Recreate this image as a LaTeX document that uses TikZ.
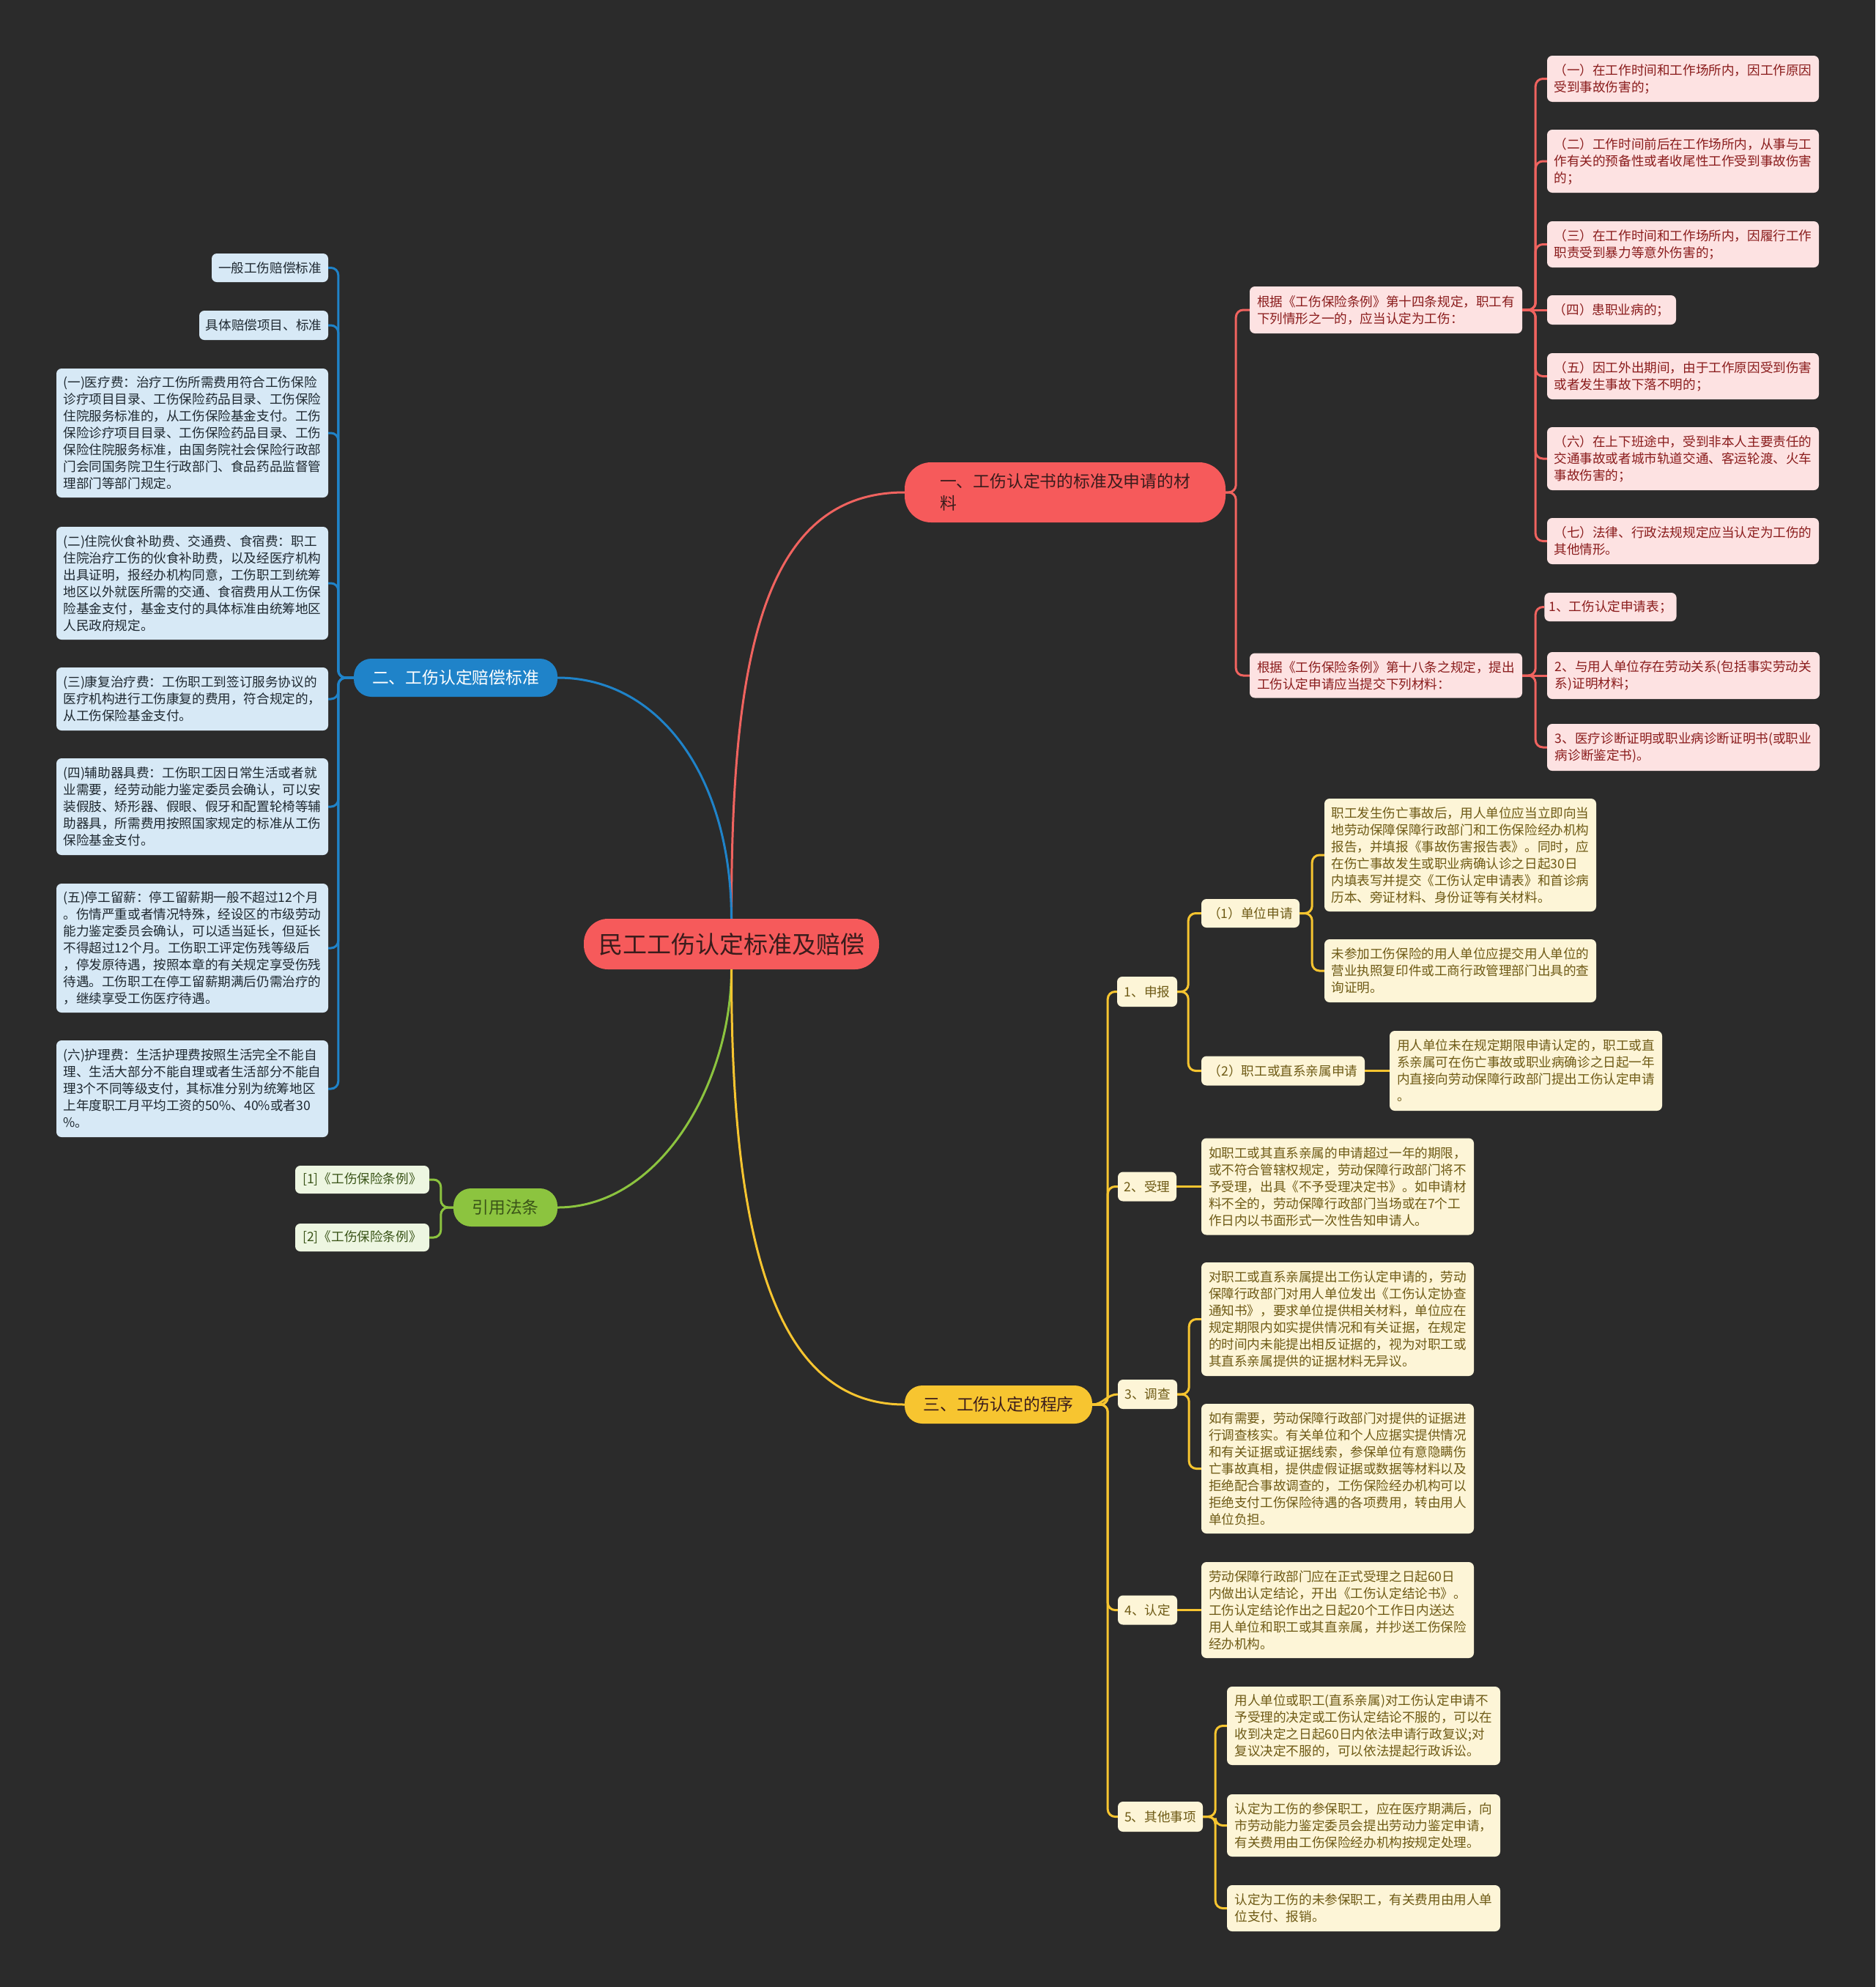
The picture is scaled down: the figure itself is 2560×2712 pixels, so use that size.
\documentclass[tikz,border=0pt]{standalone}
\usepackage{fontspec}
\setmainfont{Noto Sans CJK SC}

\definecolor{bg}{HTML}{2B2B2B}
\definecolor{redc}{HTML}{F65A5B}
\definecolor{redl}{HTML}{F0635F}
\definecolor{bluec}{HTML}{1F83C9}
\definecolor{greenc}{HTML}{8CC43F}
\definecolor{yelc}{HTML}{F7C530}
\definecolor{rfill}{HTML}{FDE2E2}
\definecolor{rtext}{HTML}{8A1C1C}
\definecolor{bfill}{HTML}{D7E9F6}
\definecolor{btext}{HTML}{1E2830}
\definecolor{yfill}{HTML}{FDF5D7}
\definecolor{ytext}{HTML}{6E5A15}
\definecolor{gfill}{HTML}{EDF6E1}
\definecolor{gtext}{HTML}{3A5418}
\definecolor{dtext}{HTML}{3A1C1C}

\tikzset{
  sz/.style 2 args={minimum width=#1, minimum height=#2},
  leaf/.style={rectangle, rounded corners=7pt, inner xsep=6pt, inner ysep=3pt,
    align=left, font=\fontsize{17.6}{23}\selectfont},
  rleaf/.style={leaf, fill=rfill, text=rtext},
  bleaf/.style={leaf, fill=bfill, text=btext},
  yleaf/.style={leaf, fill=yfill, text=ytext},
  gleaf/.style={leaf, fill=gfill, text=gtext},
  topic/.style={rectangle, rounded corners=24pt, inner sep=5pt, align=left,
    font=\fontsize{22.8}{30}\selectfont},
  rootbox/.style={rectangle, rounded corners=33pt, fill=redc, text=dtext,
    font=\fontsize{33}{40}\selectfont},
  link/.style={line width=3pt, rounded corners=10pt},
  rlink/.style={link, draw=redl},
  blink/.style={link, draw=bluec},
  glink/.style={link, draw=greenc},
  ylink/.style={link, draw=yelc},
}

\begin{document}
\begin{tikzpicture}[x=1pt, y=-1pt]
  % canvas
  \path[use as bounding box, fill=bg] (0,0) rectangle (2560,2712);

  % root
  \node[rootbox, sz={403}{69}] (root) at (998.5,1288.5) {民工工伤认定标准及赔偿};

  % main topics
  \node[topic, fill=redc, text=dtext, sz={438}{82}, rounded corners=36pt] (std) at (1454,672)
    {一、工伤认定书的标准及申请的材\\料};
  \node[topic, fill=bluec, text=white, sz={278}{52}] (comp) at (622,925) {二、工伤认定赔偿标准};
  \node[topic, fill=greenc, text=gtext, sz={142}{52}] (law) at (690,1648) {引用法条};
  \node[topic, fill=yelc, text=dtext, sz={256}{52}] (proc) at (1363,1917) {三、工伤认定的程序};

  % red: standards
  \node[rleaf, sz={372}{64}] (std1) at (1892,423)
    {根据《工伤保险条例》第十四条规定，职工有\\下列情形之一的，应当认定为工伤：};
  \node[rleaf, sz={372}{61}] (std2) at (1892,922)
    {根据《工伤保险条例》第十八条之规定，提出\\工伤认定申请应当提交下列材料：};
  \node[rleaf, sz={371}{63}] (std1a) at (2297.5,107.5)
    {（一）在工作时间和工作场所内，因工作原因\\受到事故伤害的；};
  \node[rleaf, sz={371}{86}] (std1b) at (2297.5,220)
    {（二）工作时间前后在工作场所内，从事与工\\作有关的预备性或者收尾性工作受到事故伤害\\的；};
  \node[rleaf, sz={371}{63}] (std1c) at (2297.5,333.5)
    {（三）在工作时间和工作场所内，因履行工作\\职责受到暴力等意外伤害的；};
  \node[rleaf, sz={176}{40}] (std1d) at (2200,423) {（四）患职业病的；};
  \node[rleaf, sz={371}{63}] (std1e) at (2297.5,513.5)
    {（五）因工外出期间，由于工作原因受到伤害\\或者发生事故下落不明的；};
  \node[rleaf, sz={371}{86}] (std1f) at (2297.5,626)
    {（六）在上下班途中，受到非本人主要责任的\\交通事故或者城市轨道交通、客运轮渡、火车\\事故伤害的；};
  \node[rleaf, sz={371}{63}] (std1g) at (2297.5,738.5)
    {（七）法律、行政法规规定应当认定为工伤的\\其他情形。};
  \node[rleaf, sz={177}{39}] (std2a) at (2198.5,828.5) {1、工伤认定申请表；};
  \node[rleaf, sz={372}{64}] (std2b) at (2298,922)
    {2、与用人单位存在劳动关系(包括事实劳动关\\系)证明材料；};
  \node[rleaf, sz={372}{64}] (std2c) at (2298,1020)
    {3、医疗诊断证明或职业病诊断证明书(或职业\\病诊断鉴定书)。};

  % blue: compensation
  \node[bleaf, sz={159}{39}] (comp1) at (368.5,365.5) {一般工伤赔偿标准};
  \node[bleaf, sz={176}{40}] (comp2) at (360,444) {具体赔偿项目、标准};
  \node[bleaf, sz={371}{176}] (comp3) at (262.5,591)
    {(一)医疗费：治疗工伤所需费用符合工伤保险\\诊疗项目目录、工伤保险药品目录、工伤保险\\住院服务标准的，从工伤保险基金支付。工伤\\保险诊疗项目目录、工伤保险药品目录、工伤\\保险住院服务标准，由国务院社会保险行政部\\门会同国务院卫生行政部门、食品药品监督管\\理部门等部门规定。};
  \node[bleaf, sz={371}{154}] (comp4) at (262.5,796)
    {(二)住院伙食补助费、交通费、食宿费：职工\\住院治疗工伤的伙食补助费，以及经医疗机构\\出具证明，报经办机构同意，工伤职工到统筹\\地区以外就医所需的交通、食宿费用从工伤保\\险基金支付，基金支付的具体标准由统筹地区\\人民政府规定。};
  \node[bleaf, sz={371}{86}] (comp5) at (262.5,954)
    {(三)康复治疗费：工伤职工到签订服务协议的\\医疗机构进行工伤康复的费用，符合规定的，\\从工伤保险基金支付。};
  \node[bleaf, sz={371}{132}] (comp6) at (262.5,1101)
    {(四)辅助器具费：工伤职工因日常生活或者就\\业需要，经劳动能力鉴定委员会确认，可以安\\装假肢、矫形器、假眼、假牙和配置轮椅等辅\\助器具，所需费用按照国家规定的标准从工伤\\保险基金支付。};
  \node[bleaf, sz={371}{176}] (comp7) at (262.5,1294)
    {(五)停工留薪：停工留薪期一般不超过12个月\\。伤情严重或者情况特殊，经设区的市级劳动\\能力鉴定委员会确认，可以适当延长，但延长\\不得超过12个月。工伤职工评定伤残等级后\\，停发原待遇，按照本章的有关规定享受伤残\\待遇。工伤职工在停工留薪期满后仍需治疗的\\，继续享受工伤医疗待遇。};
  \node[bleaf, sz={371}{132}] (comp8) at (262.5,1486)
    {(六)护理费：生活护理费按照生活完全不能自\\理、生活大部分不能自理或者生活部分不能自\\理3个不同等级支付，其标准分别为统筹地区\\上年度职工月平均工资的50\%、40\%或者30\\\%。};

  % green: laws
  \node[gleaf, sz={183}{38}] (law1) at (494.5,1610) {[1]《工伤保险条例》};
  \node[gleaf, sz={183}{38}] (law2) at (494.5,1689) {[2]《工伤保险条例》};

  % yellow: procedure
  \node[yleaf, sz={82}{41}] (proc1) at (1566,1353.5) {1、申报};
  \node[yleaf, sz={80}{40}] (proc2) at (1566,1619.5) {2、受理};
  \node[yleaf, sz={81}{40}] (proc3) at (1566.5,1903) {3、调查};
  \node[yleaf, sz={81}{40}] (proc4) at (1566.5,2197.5) {4、认定};
  \node[yleaf, sz={116}{41}] (proc5) at (1584,2479.5) {5、其他事项};
  \node[yleaf, sz={134}{39}] (proc1a) at (1707,1246.5) {（1）单位申请};
  \node[yleaf, sz={223}{40}] (proc1b) at (1751.5,1461.5) {（2）职工或直系亲属申请};
  \node[yleaf, sz={371}{154}] (proc1a1) at (1993.5,1167)
    {职工发生伤亡事故后，用人单位应当立即向当\\地劳动保障保障行政部门和工伤保险经办机构\\报告，并填报《事故伤害报告表》。同时，应\\在伤亡事故发生或职业病确认诊之日起30日\\内填表写并提交《工伤认定申请表》和首诊病\\历本、旁证材料、身份证等有关材料。};
  \node[yleaf, sz={371}{86}] (proc1a2) at (1993.5,1325)
    {未参加工伤保险的用人单位应提交用人单位的\\营业执照复印件或工商行政管理部门出具的查\\询证明。};
  \node[yleaf, sz={372}{109}] (proc1b1) at (2083,1461.5)
    {用人单位未在规定期限申请认定的，职工或直\\系亲属可在伤亡事故或职业病确诊之日起一年\\内直接向劳动保障行政部门提出工伤认定申请\\。};
  \node[yleaf, sz={372}{132}] (proc2a) at (1826,1619.5)
    {如职工或其直系亲属的申请超过一年的期限，\\或不符合管辖权规定，劳动保障行政部门将不\\予受理，出具《不予受理决定书》。如申请材\\料不全的，劳动保障行政部门当场或在7个工\\作日内以书面形式一次性告知申请人。};
  \node[yleaf, sz={372}{155}] (proc3a) at (1826,1800.5)
    {对职工或直系亲属提出工伤认定申请的，劳动\\保障行政部门对用人单位发出《工伤认定协查\\通知书》，要求单位提供相关材料，单位应在\\规定期限内如实提供情况和有关证据，在规定\\的时间内未能提出相反证据的，视为对职工或\\其直系亲属提供的证据材料无异议。};
  \node[yleaf, sz={372}{177}] (proc3b) at (1826,2004.5)
    {如有需要，劳动保障行政部门对提供的证据进\\行调查核实。有关单位和个人应据实提供情况\\和有关证据或证据线索，参保单位有意隐瞒伤\\亡事故真相，提供虚假证据或数据等材料以及\\拒绝配合事故调查的，工伤保险经办机构可以\\拒绝支付工伤保险待遇的各项费用，转由用人\\单位负担。};
  \node[yleaf, sz={372}{131}] (proc4a) at (1826,2197.5)
    {劳动保障行政部门应在正式受理之日起60日\\内做出认定结论，开出《工伤认定结论书》。\\工伤认定结论作出之日起20个工作日内送达\\用人单位和职工或其直亲属，并抄送工伤保险\\经办机构。};
  \node[yleaf, sz={373}{107}] (proc5a) at (1861.5,2355.5)
    {用人单位或职工(直系亲属)对工伤认定申请不\\予受理的决定或工伤认定结论不服的，可以在\\收到决定之日起60日内依法申请行政复议;对\\复议决定不服的，可以依法提起行政诉讼。};
  \node[yleaf, sz={373}{85}] (proc5b) at (1861.5,2491.5)
    {认定为工伤的参保职工，应在医疗期满后，向\\市劳动能力鉴定委员会提出劳动力鉴定申请，\\有关费用由工伤保险经办机构按规定处理。};
  \node[yleaf, sz={373}{63}] (proc5c) at (1861.5,2604.5)
    {认定为工伤的未参保职工，有关费用由用人单\\位支付、报销。};

  % root to topics
  \draw[rlink] (root.north) .. controls (998,900) and (1040,672) .. (std.west);
  \draw[blink] (root.north) .. controls (998,1060) and (900,925) .. (comp.east);
  \draw[glink] (root.south) .. controls (998,1480) and (900,1648) .. (law.east);
  \draw[ylink] (root.south) .. controls (998,1700) and (1060,1917) .. (proc.west);

  % red connectors
  \draw[rlink] (std.east) -- ++(14,0) |- (std1.west);
  \draw[rlink] (std.east) -- ++(14,0) |- (std2.west);
  \draw[rlink] (std1.east) -- ++(18,0) |- (std1a.west);
  \draw[rlink] (std1.east) -- ++(18,0) |- (std1b.west);
  \draw[rlink] (std1.east) -- ++(18,0) |- (std1c.west);
  \draw[rlink] (std1.east) -- (std1d.west);
  \draw[rlink] (std1.east) -- ++(18,0) |- (std1e.west);
  \draw[rlink] (std1.east) -- ++(18,0) |- (std1f.west);
  \draw[rlink] (std1.east) -- ++(18,0) |- (std1g.west);
  \draw[rlink] (std2.east) -- ++(18,0) |- (std2a.west);
  \draw[rlink] (std2.east) -- (std2b.west);
  \draw[rlink] (std2.east) -- ++(18,0) |- (std2c.west);

  % blue connectors
  \draw[blink] (comp.west) -- ++(-21,0) |- (comp1.east);
  \draw[blink] (comp.west) -- ++(-21,0) |- (comp2.east);
  \draw[blink] (comp.west) -- ++(-21,0) |- (comp3.east);
  \draw[blink] (comp.west) -- ++(-21,0) |- (comp4.east);
  \draw[blink] (comp.west) -- ++(-21,0) |- (comp5.east);
  \draw[blink] (comp.west) -- ++(-21,0) |- (comp6.east);
  \draw[blink] (comp.west) -- ++(-21,0) |- (comp7.east);
  \draw[blink] (comp.west) -- ++(-21,0) |- (comp8.east);

  % green connectors
  \draw[glink] (law.west) -- ++(-17,0) |- (law1.east);
  \draw[glink] (law.west) -- ++(-17,0) |- (law2.east);

  % yellow connectors
  \draw[ylink] (proc.east) -- ++(21,0) |- (proc1.west);
  \draw[ylink] (proc.east) -- ++(21,0) |- (proc2.west);
  \draw[ylink] (proc.east) to[out=0, in=180] (proc3.west);
  \draw[ylink] (proc.east) -- ++(21,0) |- (proc4.west);
  \draw[ylink] (proc.east) -- ++(21,0) |- (proc5.west);
  \draw[ylink] (proc1.east) -- ++(15,0) |- (proc1a.west);
  \draw[ylink] (proc1.east) -- ++(15,0) |- (proc1b.west);
  \draw[ylink] (proc1a.east) -- ++(17,0) |- (proc1a1.west);
  \draw[ylink] (proc1a.east) -- ++(17,0) |- (proc1a2.west);
  \draw[ylink] (proc1b.east) -- (proc1b1.west);
  \draw[ylink] (proc2.east) -- (proc2a.west);
  \draw[ylink] (proc3.east) -- ++(16,0) |- (proc3a.west);
  \draw[ylink] (proc3.east) -- ++(16,0) |- (proc3b.west);
  \draw[ylink] (proc4.east) -- (proc4a.west);
  \draw[ylink] (proc5.east) -- ++(17,0) |- (proc5a.west);
  \draw[ylink] (proc5.east) -- ++(17,0) |- (proc5b.west);
  \draw[ylink] (proc5.east) -- ++(17,0) |- (proc5c.west);
\end{tikzpicture}
\end{document}
